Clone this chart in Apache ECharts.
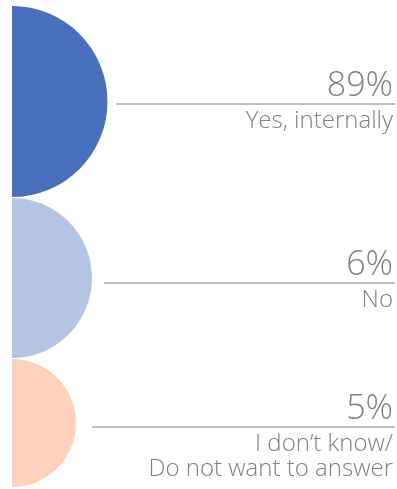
<!DOCTYPE html>
<html>
<head>
<meta charset="utf-8">
<script src="https://cdn.jsdelivr.net/npm/echarts@6/dist/echarts.min.js"></script>
<style>
  html, body { margin: 0; padding: 0; background: #fff; }
  #chart { width: 397px; height: 489px; }
</style>
</head>
<body>
<div id="chart"></div>
<script>
// 数据
const categories = ['Yes, internally', 'No', 'I don’t know/\nDo not want to answer'];
const values = [89, 6, 5];

// 样式 / 布局
const colors = ['#4a6fbc', '#b4c4e3', '#ffd1bd'];
const centerX = 12;
const centerY = [101.5, 278, 423];
const radii = [95.5, 80, 64];
const lineY = [104, 283, 427];
const lineStartX = [116, 104, 92];
const rightEdge = 393;
const textColor = '#808080';
const fontFamily = '"Open Sans", "Noto Sans", sans-serif';

const myEcharts = echarts.init(document.getElementById('chart'));

// 半圆
const series = values.map((v, i) => ({
  type: 'pie',
  center: [centerX, centerY[i]],
  radius: radii[i],
  startAngle: 90,
  endAngle: -90,
  clockwise: true,
  silent: true,
  label: { show: false },
  labelLine: { show: false },
  data: [{ name: categories[i], value: v, itemStyle: { color: colors[i] } }]
}));

// 引导线和文字
const graphics = [];
values.forEach((v, i) => {
  graphics.push({
    type: 'line',
    shape: { x1: lineStartX[i], y1: lineY[i], x2: rightEdge + 2, y2: lineY[i] },
    style: { stroke: '#bfbfbf', lineWidth: 2 },
    silent: true
  });
  graphics.push({
    type: 'text',
    x: rightEdge,
    y: lineY[i] - 1,
    style: {
      text: v + '%',
      fill: textColor,
      font: '300 34px ' + fontFamily,
      align: 'right',
      verticalAlign: 'bottom'
    }
  });
  graphics.push({
    type: 'text',
    x: rightEdge,
    y: lineY[i] + 5,
    style: {
      text: categories[i],
      fill: textColor,
      font: '300 24px ' + fontFamily,
      lineHeight: 25,
      align: 'right',
      verticalAlign: 'top'
    }
  });
});

myEcharts.setOption({
  animation: false,
  series: series,
  graphic: graphics
});
</script>
</body>
</html>
